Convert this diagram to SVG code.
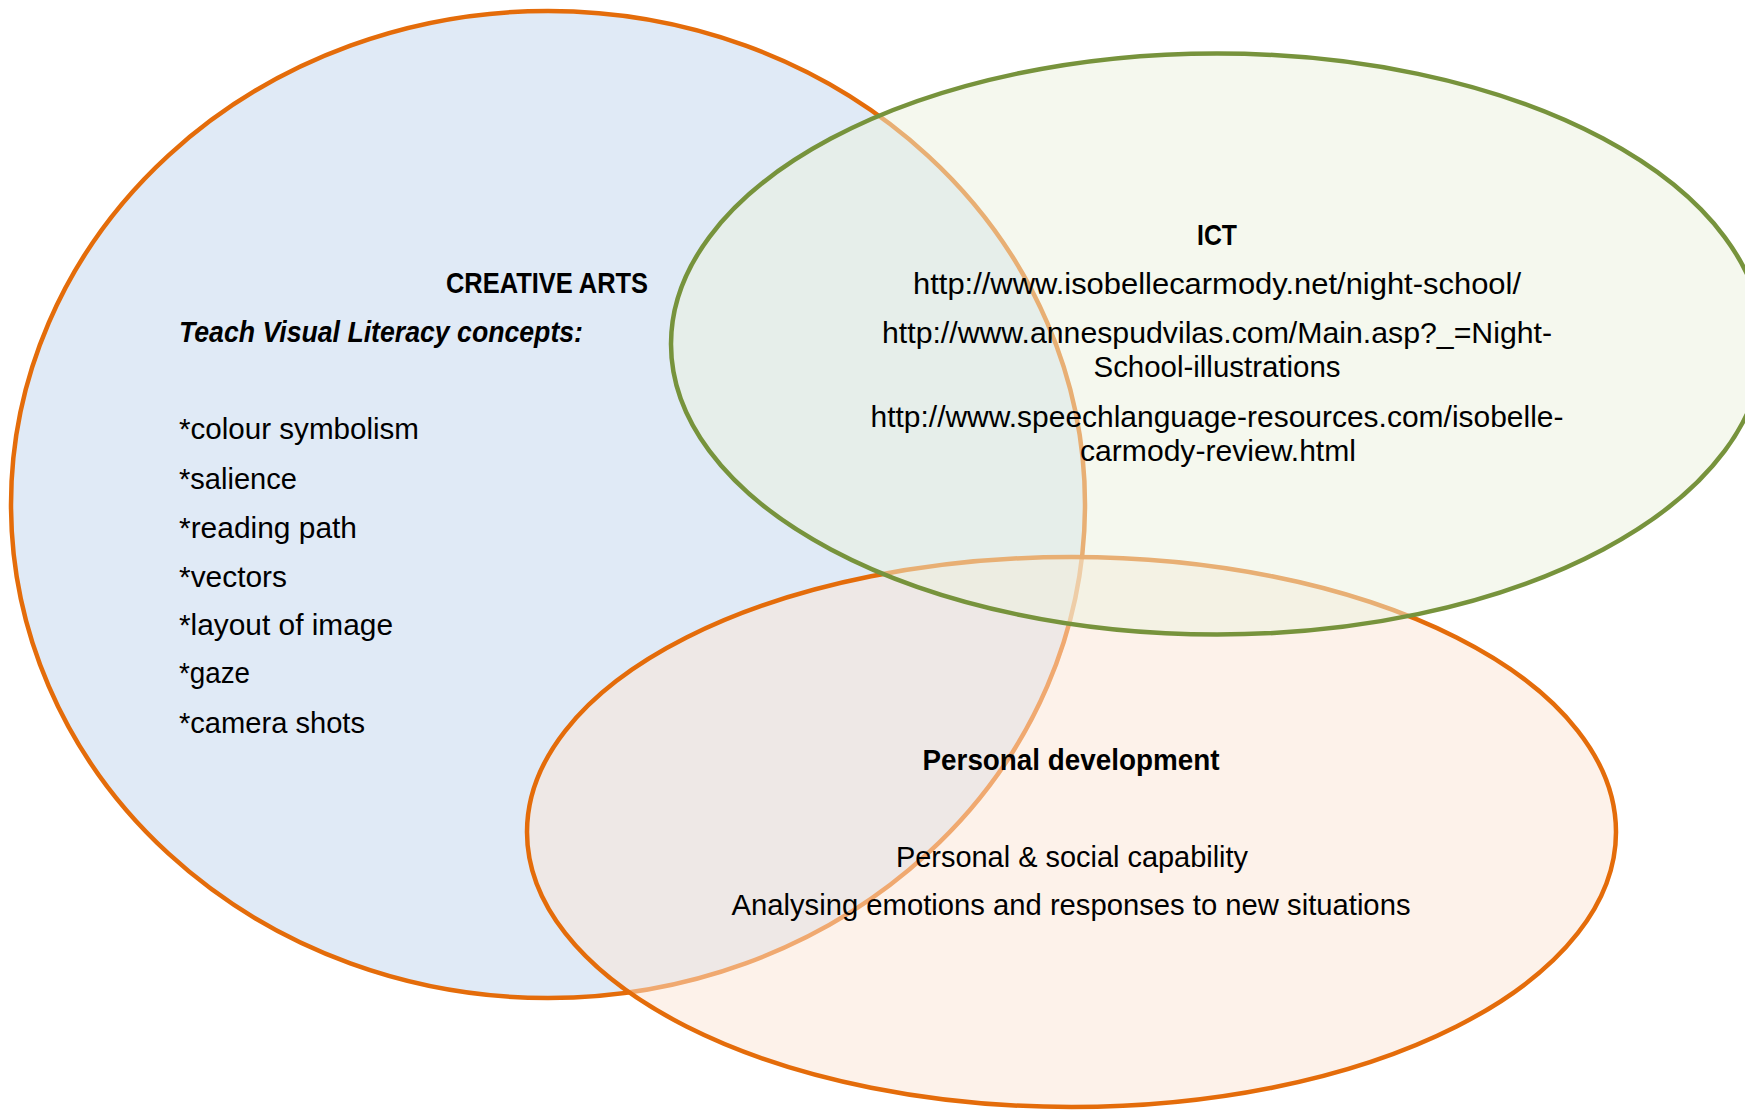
<svg xmlns="http://www.w3.org/2000/svg" width="1745" height="1110" viewBox="0 0 1745 1110">
<style>
text{font-family:"Liberation Sans Narrow","Liberation Sans",Arial,sans-serif;font-size:29.5px;fill:#000}
.b{font-weight:bold}
.bi{font-weight:bold;font-style:italic}
.m{text-anchor:middle}
.sh{stroke-width:4.5}
</style>
<rect width="1745" height="1110" fill="#fff"/>
<g id="creative-arts">
<ellipse cx="548" cy="504.5" rx="537" ry="493.5" fill="#E0EAF6" stroke="#E46C0A" class="sh"/>
<text class="b m" x="547" y="293" textLength="202" lengthAdjust="spacingAndGlyphs">CREATIVE ARTS</text>
<text class="bi" x="179" y="342" textLength="404" lengthAdjust="spacingAndGlyphs">Teach Visual Literacy concepts:</text>
<text x="179" y="439" textLength="240" lengthAdjust="spacingAndGlyphs">*colour symbolism</text>
<text x="179" y="489" textLength="118" lengthAdjust="spacingAndGlyphs">*salience</text>
<text x="179" y="538" textLength="178" lengthAdjust="spacingAndGlyphs">*reading path</text>
<text x="179" y="587" textLength="108" lengthAdjust="spacingAndGlyphs">*vectors</text>
<text x="179" y="635" textLength="214" lengthAdjust="spacingAndGlyphs">*layout of image</text>
<text x="179" y="683" textLength="71" lengthAdjust="spacingAndGlyphs">*gaze</text>
<text x="179" y="733" textLength="186" lengthAdjust="spacingAndGlyphs">*camera shots</text>
</g>
<g id="personal-development">
<ellipse cx="1071.5" cy="832" rx="544.5" ry="275" fill="#FBE5D6" fill-opacity="0.5" stroke="#E46C0A" class="sh"/>
<text class="b m" x="1071" y="770" textLength="297" lengthAdjust="spacingAndGlyphs">Personal development</text>
<text class="m" x="1072" y="867" textLength="352" lengthAdjust="spacingAndGlyphs">Personal &amp; social capability</text>
<text class="m" x="1071" y="915" textLength="679" lengthAdjust="spacingAndGlyphs">Analysing emotions and responses to new situations</text>
</g>
<g id="ict">
<ellipse cx="1217" cy="344" rx="546" ry="290.5" fill="#EBF1DE" fill-opacity="0.5" stroke="#77933C" class="sh"/>
<text class="b m" x="1217" y="245" textLength="40" lengthAdjust="spacingAndGlyphs">ICT</text>
<text class="m" x="1217" y="294" textLength="608" lengthAdjust="spacingAndGlyphs">http://www.isobellecarmody.net/night-school/</text>
<text class="m" x="1217" y="343" textLength="670" lengthAdjust="spacingAndGlyphs">http://www.annespudvilas.com/Main.asp?_=Night-</text>
<text class="m" x="1217" y="377" textLength="247" lengthAdjust="spacingAndGlyphs">School-illustrations</text>
<text class="m" x="1217" y="427" textLength="693" lengthAdjust="spacingAndGlyphs">http://www.speechlanguage-resources.com/isobelle-</text>
<text class="m" x="1218" y="461" textLength="276" lengthAdjust="spacingAndGlyphs">carmody-review.html</text>
</g>
<g id="connectors"/>
</svg>
